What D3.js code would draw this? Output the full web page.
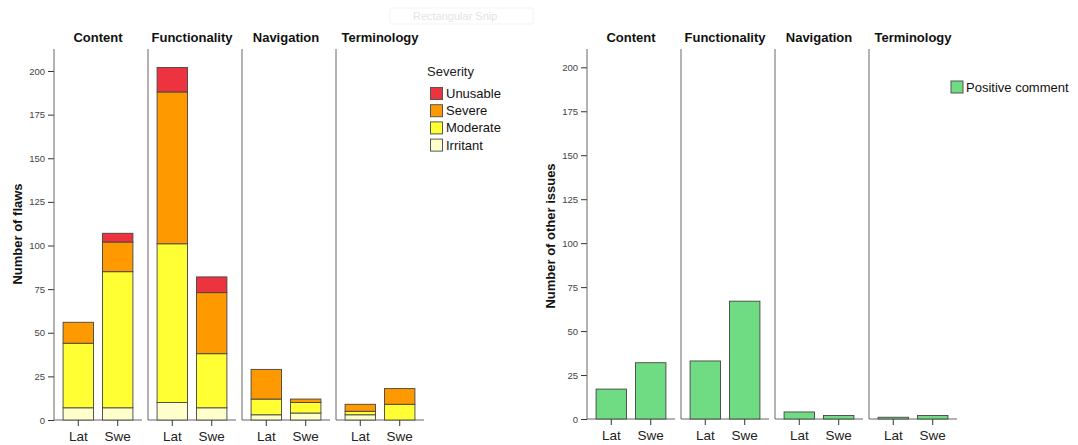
<!DOCTYPE html>
<html><head><meta charset="utf-8">
<script src="https://cdn.jsdelivr.net/npm/d3@7"></script>
<style>body{margin:0;background:#fff}svg{display:block;font-family:"Liberation Sans",Arial,sans-serif}</style>
</head><body><svg id="c" width="1078" height="445"></svg>
<script>
// ---- data ----
const categories = ["Content","Functionality","Navigation","Terminology"];
const groups = ["Lat","Swe"];
const severities = ["Irritant","Moderate","Severe","Unusable"];
// order: Content Lat, Content Swe, Functionality Lat, Functionality Swe, Navigation Lat, Navigation Swe, Terminology Lat, Terminology Swe
const irritant = [7,7,10,7,3,4,3,0];
const moderate = [37,78,91,31,9,6,2,9];
const severe   = [12,17,87,35,17,2,4,9];
const unusable = [0,5,14,9,0,0,0,0];
const positive = [17,32,33,67,4,2,1,2];
const yTicks = [0,25,50,75,100,125,150,175,200];
const sevColors = {Irritant:"#ffffcc",Moderate:"#ffff33",Severe:"#ff9900",Unusable:"#ee3340"};
const posColor = "#6fdc83";

const svg = d3.select("#c");

// faint screen artifact at the top
svg.append("rect").attr("x",390).attr("y",8).attr("width",143).attr("height",16).attr("rx",2)
  .attr("fill","none").attr("stroke","#f3f3f3");
svg.append("text").attr("x",413).attr("y",20).attr("font-size",11).attr("fill","#e4e4e4").text("Rectangular Snip");

const rows = [];
categories.forEach((c,ci)=>groups.forEach((g,gi)=>{
  const i = ci*2+gi;
  rows.push({cat:c,grp:g,Irritant:irritant[i],Moderate:moderate[i],Severe:severe[i],Unusable:unusable[i],Positive:positive[i]});
}));

function drawChart(opt){
  const g = svg.append("g");
  const y = d3.scaleLinear().domain([0,200]).range([opt.y0,opt.y200]);
  const px = d3.scaleBand().domain(categories).range([opt.left, opt.left+3*94+88]).paddingInner(0.064).paddingOuter(0);
  const bx = d3.scaleBand().domain(groups).range([0, px.bandwidth()]).paddingInner(0.23).paddingOuter(0.23);
  const top = opt.top;

  // y axis
  const ax = g.append("g").attr("transform",`translate(${opt.left},0)`)
    .call(d3.axisLeft(y).tickValues(yTicks).tickSize(6).tickSizeOuter(0).tickPadding(3));
  ax.select(".domain").remove();
  ax.selectAll(".tick line").attr("stroke","#333");
  ax.selectAll(".tick text").attr("font-size",9.5).attr("fill","#444").attr("font-family","Liberation Sans, Arial, sans-serif");

  categories.forEach(c=>{
    const x0 = px(c);
    const pg = g.append("g");
    // panel left line and bottom line
    pg.append("line").attr("x1",x0).attr("x2",x0).attr("y1",top).attr("y2",y(0)).attr("stroke","#666");
    pg.append("line").attr("x1",x0).attr("x2",x0+px.bandwidth()).attr("y1",y(0)).attr("y2",y(0)).attr("stroke","#666");
    pg.append("text").attr("x",x0+px.bandwidth()/2).attr("y",opt.titleY).attr("text-anchor","middle")
      .attr("font-size",13).attr("font-weight","bold").attr("fill","#111").text(c);
    groups.forEach(gr=>{
      const cx = x0+bx(gr)+bx.bandwidth()/2;
      pg.append("line").attr("x1",cx).attr("x2",cx).attr("y1",y(0)).attr("y2",y(0)+6).attr("stroke","#333");
      pg.append("text").attr("x",cx).attr("y",y(0)+21).attr("text-anchor","middle").attr("font-size",13.5).attr("fill","#222").text(gr);
    });
  });

  if(opt.stacked){
    const stack = d3.stack().keys(severities)(rows);
    stack.forEach(layer=>{
      g.append("g").selectAll("rect").data(layer.filter(d=>d[1]-d[0]>0)).join("rect")
        .attr("x",d=>px(d.data.cat)+bx(d.data.grp)).attr("width",bx.bandwidth())
        .attr("y",d=>y(d[1])).attr("height",d=>y(d[0])-y(d[1]))
        .attr("fill",sevColors[layer.key]).attr("stroke","#444").attr("stroke-width",0.9);
    });
  } else {
    g.append("g").selectAll("rect").data(rows).join("rect")
      .attr("x",d=>px(d.cat)+bx(d.grp)).attr("width",bx.bandwidth())
      .attr("y",d=>y(d.Positive)).attr("height",d=>y(0)-y(d.Positive))
      .attr("fill",posColor).attr("stroke","#444").attr("stroke-width",0.9);
  }

  // y label
  g.append("text").attr("transform",`translate(${opt.labelX},${opt.labelY}) rotate(-90)`)
    .attr("text-anchor","middle").attr("dominant-baseline","central").attr("font-size",13).attr("font-weight","bold").attr("fill","#111").text(opt.ylabel);
}

drawChart({left:54, y0:420, y200:71, top:49, titleY:42, stacked:true, ylabel:"Number of flaws", labelX:17, labelY:234});
drawChart({left:587, y0:419, y200:67.3, top:49, titleY:42, stacked:false, ylabel:"Number of other issues", labelX:550, labelY:236});

// left legend
const lg = svg.append("g");
lg.append("text").attr("x",427).attr("y",76).attr("font-size",13).attr("fill","#222").text("Severity");
severities.slice().reverse().forEach((s,i)=>{
  const yy = 87.5 + i*17.2;
  lg.append("rect").attr("x",430.5).attr("y",yy).attr("width",12).attr("height",12).attr("fill",sevColors[s]).attr("stroke","#555");
  lg.append("text").attr("x",446).attr("y",yy+10.5).attr("font-size",13).attr("fill","#111").text(s);
});
// right legend
svg.append("rect").attr("x",951).attr("y",81).attr("width",12).attr("height",12).attr("fill",posColor).attr("stroke","#555");
svg.append("text").attr("x",966).attr("y",92).attr("font-size",13).attr("fill","#111").text("Positive comment");
</script></body></html>
